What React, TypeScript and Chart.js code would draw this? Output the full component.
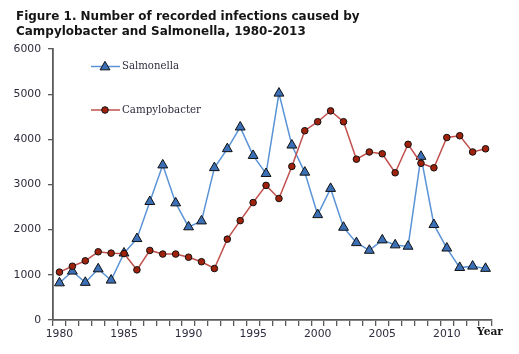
import React, { useEffect, useRef } from 'react';
import { Chart, registerables } from 'chart.js';

Chart.register(...registerables);

const years = [
  '1980', '1981', '1982', '1983', '1984', '1985', '1986', '1987', '1988', '1989',
  '1990', '1991', '1992', '1993', '1994', '1995', '1996', '1997', '1998', '1999',
  '2000', '2001', '2002', '2003', '2004', '2005', '2006', '2007', '2008', '2009',
  '2010', '2011', '2012', '2013',
];

const salmonella = [
  820, 1080, 830, 1130, 880, 1480, 1800, 2620, 3430, 2590,
  2060, 2190, 3370, 3790, 4270, 3640, 3240, 5020, 3870, 3270,
  2330, 2910, 2050, 1710, 1540, 1770, 1660, 1630, 3620, 2110,
  1590, 1160, 1190, 1140,
];

const campylobacter = [
  1060, 1190, 1310, 1510, 1480, 1470, 1110, 1540, 1460, 1460,
  1390, 1290, 1140, 1790, 2200, 2600, 2980, 2690, 3400, 4190,
  4390, 4630, 4390, 3560, 3720, 3680, 3260, 3890, 3470, 3370,
  4040, 4080, 3720, 3790,
];

const xTickLabels = ['1980', '1985', '1990', '1995', '2000', '2005', '2010'];
const yTickValues = [0, 1000, 2000, 3000, 4000, 5000, 6000];
const titleLines = [
  'Figure 1. Number of recorded infections caused by',
  'Campylobacter and Salmonella, 1980-2013',
];
const seriesNames = ['Salmonella', 'Campylobacter'];
const axisTitle = 'Year';

const SAL_LINE = '#5a93d6';
const SAL_FILL = '#3b6fb6';
const CAM_LINE = '#c0504d';
const CAM_FILL = '#a0220c';
const AXIS = '#5a5a5a';
const TEXT = '#2e2b3c';

function fitSize(ctx: CanvasRenderingContext2D, text: string, weight: string, family: string, target: number) {
  ctx.font = `${weight} 20px ${family}`;
  const w = ctx.measureText(text).width;
  return (20 * target) / w;
}

function drawTriangle(ctx: CanvasRenderingContext2D, x: number, y: number, r: number) {
  ctx.beginPath();
  for (let i = 0; i < 3; i++) {
    const a = (i * 2 * Math.PI) / 3;
    const px = x + Math.sin(a) * r;
    const py = y - Math.cos(a) * r;
    if (i === 0) ctx.moveTo(px, py);
    else ctx.lineTo(px, py);
  }
  ctx.closePath();
  ctx.fillStyle = SAL_FILL;
  ctx.fill();
  ctx.strokeStyle = '#111';
  ctx.lineWidth = 1;
  ctx.stroke();
}

function drawCircle(ctx: CanvasRenderingContext2D, x: number, y: number, r: number) {
  ctx.beginPath();
  ctx.arc(x, y, r, 0, Math.PI * 2);
  ctx.fillStyle = CAM_FILL;
  ctx.fill();
  ctx.strokeStyle = '#111';
  ctx.lineWidth = 1;
  ctx.stroke();
}

const overlayPlugin = {
  id: 'overlay',
  afterDraw(chart: any) {
    const ctx: CanvasRenderingContext2D = chart.ctx;
    ctx.save();
    // Title
    ctx.textAlign = 'left';
    ctx.textBaseline = 'alphabetic';
    ctx.fillStyle = '#151515';
    const ts = fitSize(ctx, titleLines[0], 'bold', '"DejaVu Sans"', 344);
    ctx.font = `bold ${ts}px "DejaVu Sans"`;
    ctx.fillText(titleLines[0], 16, 20);
    ctx.fillText(titleLines[1], 16, 34.5);

    // Legend
    const legendY = [66.5, 110];
    const lineColors = [SAL_LINE, CAM_LINE];
    const legendWidths = [57, 79];
    for (let i = 0; i < 2; i++) {
      const y = legendY[i];
      ctx.beginPath();
      ctx.moveTo(91, y);
      ctx.lineTo(120, y);
      ctx.strokeStyle = lineColors[i];
      ctx.lineWidth = 1.5;
      ctx.stroke();
      if (i === 0) drawTriangle(ctx, 105, y + 0.5, 5.7);
      else drawCircle(ctx, 105, y, 3.3);
      const ls = fitSize(ctx, seriesNames[i], 'normal', '"DejaVu Serif"', legendWidths[i]);
      ctx.font = `normal ${Math.min(ls, 11.5)}px "DejaVu Serif"`;
      ctx.fillStyle = TEXT;
      ctx.textBaseline = 'middle';
      ctx.fillText(seriesNames[i], 122, y);
    }

    // Year label
    const ys = fitSize(ctx, axisTitle, 'bold', '"DejaVu Serif"', 26);
    ctx.font = `bold ${ys}px "DejaVu Serif"`;
    ctx.fillStyle = '#151515';
    ctx.textBaseline = 'middle';
    ctx.fillText(axisTitle, 477, 332);
    ctx.restore();
  },
};

export default function App() {
  const ref = useRef<HTMLCanvasElement | null>(null);

  useEffect(() => {
    if (!ref.current) return;
    const chart = new Chart(ref.current, {
      type: 'line',
      data: {
        labels: years,
        datasets: [
          {
            label: seriesNames[1],
            data: campylobacter,
            borderColor: CAM_LINE,
            borderWidth: 1.5,
            backgroundColor: CAM_FILL,
            pointStyle: 'circle',
            pointRadius: 3.3,
            pointBorderColor: '#111',
            pointBorderWidth: 1,
            pointBackgroundColor: CAM_FILL,
            tension: 0,
            order: 1,
          },
          {
            label: seriesNames[0],
            data: salmonella,
            borderColor: SAL_LINE,
            borderWidth: 1.5,
            backgroundColor: SAL_FILL,
            pointStyle: 'triangle',
            pointRadius: 5.7,
            pointBorderColor: '#111',
            pointBorderWidth: 1,
            pointBackgroundColor: SAL_FILL,
            tension: 0,
            order: 2,
          },
        ],
      },
      options: {
        responsive: false,
        animation: false,
        events: [],
        layout: { padding: { top: 49, left: 0, right: 27, bottom: 0 } },
        plugins: {
          legend: { display: false },
          title: { display: false },
          tooltip: { enabled: false },
        },
        scales: {
          x: {
            type: 'category',
            offset: true,
            grid: {
              offset: true,
              drawOnChartArea: false,
              drawTicks: true,
              tickLength: 6,
              color: AXIS,
              lineWidth: 1.3,
            },
            border: { color: AXIS, width: 1.8 },
            ticks: {
              autoSkip: false,
              maxRotation: 0,
              minRotation: 0,
              padding: 2,
              color: TEXT,
              font: { family: '"DejaVu Sans"', size: 10.8 },
              callback: (_v: any, i: number) => (xTickLabels.includes(years[i]) ? years[i] : ''),
            },
            afterFit: (scale: any) => {
              scale.height = 34;
            },
          },
          y: {
            min: yTickValues[0],
            max: yTickValues[yTickValues.length - 1],
            grid: {
              drawOnChartArea: false,
              drawTicks: true,
              tickLength: 5,
              color: AXIS,
              lineWidth: 1.3,
            },
            border: { color: AXIS, width: 1.8 },
            ticks: {
              stepSize: 1000,
              padding: 7,
              color: TEXT,
              font: { family: '"DejaVu Sans"', size: 10.8 },
              callback: (v: any) => String(v),
            },
            afterBuildTicks: (scale: any) => {
              scale.ticks = yTickValues.map((v) => ({ value: v }));
            },
            afterFit: (scale: any) => {
              scale.width = 53;
            },
          },
        },
      },
      plugins: [overlayPlugin],
    });
    return () => chart.destroy();
  }, []);

  return (
    <div style={{ position: 'fixed', left: 0, top: 0, width: 519, height: 354, background: '#fff' }}>
      <canvas ref={ref} width={519} height={354} style={{ display: 'block' }} />
    </div>
  );
}
